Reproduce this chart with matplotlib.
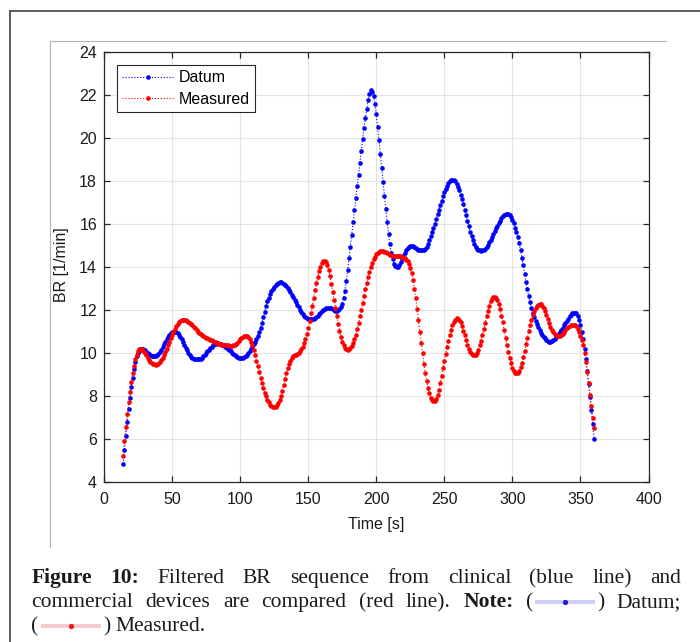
import numpy as np
import matplotlib
matplotlib.use('Agg')
import matplotlib.pyplot as plt
from matplotlib.lines import Line2D

# ---------------- data ----------------
time_s = np.arange(14, 361)  # sample times [s], 1 s apart

datum = [
    4.85, 5.5, 6.15, 6.8, 7.4, 7.9, 8.4, 8.85, 9.25, 9.6,
    9.85, 10.0, 10.1, 10.17, 10.2, 10.18, 10.12, 10.05, 10.0, 9.95,
    9.9, 9.87, 9.85, 9.85, 9.86, 9.9, 9.97, 10.05, 10.15, 10.27,
    10.4, 10.52, 10.64, 10.75, 10.85, 10.92, 10.97, 11.0, 11.0, 10.98,
    10.93, 10.85, 10.75, 10.63, 10.5, 10.37, 10.24, 10.12, 10.01, 9.91,
    9.83, 9.77, 9.73, 9.71, 9.7, 9.7, 9.71, 9.74, 9.79, 9.85,
    9.92, 10.0, 10.08, 10.16, 10.24, 10.3, 10.36, 10.4, 10.43, 10.45,
    10.45, 10.44, 10.42, 10.39, 10.35, 10.3, 10.25, 10.19, 10.13, 10.07,
    10.01, 9.95, 9.9, 9.85, 9.81, 9.78, 9.76, 9.76, 9.77, 9.8,
    9.85, 9.92, 10.0, 10.08, 10.17, 10.28, 10.4, 10.52, 10.64, 10.78,
    10.97, 11.18, 11.4, 11.67, 11.92, 12.18, 12.4, 12.58, 12.74, 12.87,
    12.98, 13.08, 13.16, 13.22, 13.26, 13.28, 13.28, 13.26, 13.22, 13.17,
    13.1, 13.02, 12.93, 12.83, 12.72, 12.6, 12.48, 12.36, 12.24, 12.12,
    12.01, 11.91, 11.82, 11.74, 11.68, 11.63, 11.6, 11.58, 11.57, 11.57,
    11.58, 11.61, 11.66, 11.72, 11.8, 11.87, 11.94, 12.0, 12.04, 12.07,
    12.09, 12.1, 12.1, 12.08, 12.03, 11.98, 11.95, 11.96, 12.0, 12.05,
    12.15, 12.3, 12.55, 12.9, 13.35, 13.85, 14.4, 14.95, 15.5, 16.07,
    16.64, 17.2, 17.75, 18.3, 18.85, 19.4, 19.95, 20.45, 20.92, 21.35,
    21.75, 22.05, 22.22, 22.15, 21.95, 21.6, 21.1, 20.5, 19.9, 19.25,
    18.6, 17.95, 17.3, 16.7, 16.1, 15.55, 15.05, 14.65, 14.35, 14.15,
    14.03, 14.0, 14.02, 14.1, 14.22, 14.37, 14.52, 14.65, 14.77, 14.87,
    14.94, 14.98, 14.99, 14.98, 14.95, 14.9, 14.85, 14.81, 14.79, 14.78,
    14.78, 14.8, 14.86, 14.95, 15.08, 15.24, 15.42, 15.61, 15.81, 16.02,
    16.23, 16.45, 16.67, 16.88, 17.09, 17.29, 17.47, 17.63, 17.78, 17.9,
    17.99, 18.04, 18.06, 18.04, 17.98, 17.88, 17.74, 17.57, 17.37, 17.15,
    16.91, 16.66, 16.4, 16.14, 15.89, 15.65, 15.43, 15.24, 15.08, 14.95,
    14.86, 14.8, 14.77, 14.76, 14.77, 14.8, 14.86, 14.94, 15.04, 15.15,
    15.27, 15.4, 15.53, 15.67, 15.8, 15.93, 16.05, 16.16, 16.26, 16.35,
    16.42, 16.46, 16.48, 16.47, 16.42, 16.33, 16.2, 16.03, 15.83, 15.61,
    15.4, 15.1, 14.78, 14.43, 14.07, 13.69, 13.32, 12.96, 12.64, 12.35,
    12.1, 11.88, 11.68, 11.5, 11.34, 11.2, 11.07, 10.95, 10.85, 10.76,
    10.68, 10.61, 10.56, 10.53, 10.53, 10.55, 10.6, 10.67, 10.74, 10.82,
    10.9, 10.98, 11.07, 11.17, 11.28, 11.39, 11.5, 11.6, 11.7, 11.78,
    11.84, 11.87, 11.88, 11.84, 11.72, 11.53, 11.3, 11.0, 10.63, 10.2,
    9.7, 9.15, 8.57, 7.97, 7.35, 6.68, 6.0,
]

measured = [
    5.23, 5.9, 6.55, 7.15, 7.7, 8.2, 8.65, 9.05, 9.4, 9.7,
    9.93, 10.08, 10.17, 10.2, 10.17, 10.1, 10.0, 9.89, 9.78, 9.68,
    9.6, 9.53, 9.49, 9.47, 9.46, 9.47, 9.51, 9.58, 9.67, 9.78,
    9.91, 10.05, 10.2, 10.36, 10.52, 10.68, 10.84, 10.99, 11.13, 11.25,
    11.35, 11.43, 11.49, 11.53, 11.54, 11.54, 11.52, 11.49, 11.45, 11.4,
    11.34, 11.28, 11.21, 11.14, 11.07, 11.0, 10.94, 10.88, 10.83, 10.78,
    10.74, 10.71, 10.68, 10.65, 10.62, 10.59, 10.56, 10.52, 10.49, 10.46,
    10.44, 10.42, 10.4, 10.38, 10.37, 10.36, 10.35, 10.35, 10.34, 10.34,
    10.34, 10.35, 10.38, 10.42, 10.48, 10.55, 10.63, 10.7, 10.76, 10.79,
    10.8, 10.79, 10.74, 10.65, 10.52, 10.35, 10.14, 9.91, 9.65, 9.38,
    9.11, 8.85, 8.6, 8.37, 8.16, 7.98, 7.83, 7.7, 7.6, 7.53,
    7.49, 7.48, 7.5, 7.57, 7.68, 7.83, 8.02, 8.24, 8.5, 8.78,
    9.06, 9.3, 9.5, 9.65, 9.76, 9.84, 9.89, 9.93, 9.97, 10.02,
    10.09, 10.18, 10.3, 10.46, 10.66, 10.9, 11.18, 11.5, 11.84, 12.2,
    12.56, 12.91, 13.24, 13.54, 13.8, 14.01, 14.17, 14.26, 14.28, 14.22,
    14.08, 13.86, 13.57, 13.23, 12.86, 12.47, 12.08, 11.7, 11.34, 11.02,
    10.75, 10.53, 10.36, 10.24, 10.17, 10.15, 10.17, 10.22, 10.32, 10.46,
    10.64, 10.86, 11.12, 11.4, 11.7, 12.02, 12.34, 12.66, 12.97, 13.26,
    13.53, 13.78, 14.0, 14.19, 14.35, 14.48, 14.59, 14.67, 14.72, 14.75,
    14.76, 14.75, 14.72, 14.68, 14.63, 14.59, 14.56, 14.54, 14.53, 14.53,
    14.53, 14.53, 14.53, 14.52, 14.5, 14.47, 14.44, 14.4, 14.34, 14.27,
    14.15, 13.97, 13.72, 13.4, 13.0, 12.55, 12.05, 11.52, 11.0, 10.48,
    9.98, 9.5, 9.08, 8.7, 8.38, 8.12, 7.93, 7.8, 7.75, 7.77,
    7.87, 8.05, 8.3, 8.6, 8.93, 9.28, 9.63, 9.97, 10.29, 10.58,
    10.85, 11.08, 11.28, 11.44, 11.55, 11.61, 11.6, 11.54, 11.42, 11.25,
    11.04, 10.82, 10.6, 10.39, 10.2, 10.05, 9.95, 9.9, 9.89, 9.93,
    10.02, 10.16, 10.35, 10.58, 10.84, 11.12, 11.41, 11.7, 11.97, 12.2,
    12.4, 12.53, 12.6, 12.62, 12.57, 12.45, 12.27, 12.03, 11.74, 11.42,
    11.07, 10.72, 10.38, 10.06, 9.77, 9.52, 9.32, 9.17, 9.08, 9.05,
    9.08, 9.18, 9.34, 9.55, 9.81, 10.1, 10.41, 10.72, 11.02, 11.3,
    11.55, 11.77, 11.95, 12.09, 12.19, 12.25, 12.27, 12.26, 12.2, 12.1,
    11.95, 11.77, 11.58, 11.39, 11.22, 11.08, 10.97, 10.89, 10.84, 10.81,
    10.8, 10.81, 10.84, 10.9, 10.98, 11.06, 11.14, 11.21, 11.26, 11.29,
    11.31, 11.31, 11.29, 11.24, 11.13, 10.98, 10.8, 10.6, 10.35, 10.02,
    9.6, 9.12, 8.6, 8.06, 7.52, 7.0, 6.5,
]

series_labels = ['Datum', 'Measured']
x_ticks = [0, 50, 100, 150, 200, 250, 300, 350, 400]
y_ticks = [4, 6, 8, 10, 12, 14, 16, 18, 20, 22, 24]
x_label = 'Time [s]'
y_label = 'BR [1/min]'

caption_lines = [
    [[('Figure', 'bold')], [('10:', 'bold')], [('Filtered', 'normal')], [('BR', 'normal')],
     [('sequence', 'normal')], [('from', 'normal')], [('clinical', 'normal')],
     [('(blue', 'normal')], [('line)', 'normal')], [('and', 'normal')]],
    [[('commercial', 'normal')], [('devices', 'normal')], [('are', 'normal')],
     [('compared', 'normal')], [('(red', 'normal')], [('line).', 'normal')],
     [('Note:', 'bold')], [('(', 'normal'), ('#SAMPLE', 'blue'), (')', 'normal')],
     [('Datum;', 'normal')]],
    [[('(', 'normal'), ('#SAMPLE', 'red'), (')', 'normal')], [('Measured.', 'normal')]],
]

# ---------------- figure ----------------
W, H = 700, 642
plt.rcParams['font.family'] = ['Liberation Sans', 'DejaVu Sans']
fig = plt.figure(figsize=(W / 100, H / 100), dpi=100)
fig.patch.set_facecolor('white')

def fx(px):
    return px / W

def fy(py):
    return 1 - py / H

# outer frame (left + top)
fig.add_artist(Line2D([fx(9.5), fx(9.5)], [0, fy(10.5)], transform=fig.transFigure,
                      color='#505050', lw=1.3))
fig.add_artist(Line2D([fx(9.5), 1.0], [fy(10.5), fy(10.5)], transform=fig.transFigure,
                      color='#505050', lw=1.3))
# inner image frame
fig.add_artist(Line2D([fx(49.5), fx(666)], [fy(40.5), fy(40.5)], transform=fig.transFigure,
                      color='#b4b4b4', lw=0.8))
fig.add_artist(Line2D([fx(49.5), fx(49.5)], [fy(40.5), fy(547)], transform=fig.transFigure,
                      color='#b4b4b4', lw=0.8))

ax_l, ax_r, ax_t, ax_b = 104, 648.5, 52, 482
ax = fig.add_axes([fx(ax_l), fy(ax_b), (ax_r - ax_l) / W, (ax_b - ax_t) / H])

ax.plot(time_s, datum, ':', color='#0000ff', marker='o', ms=3.3, mew=0, lw=0.8,
        label=series_labels[0])
ax.plot(time_s, measured, ':', color='#ff0000', marker='o', ms=3.3, mew=0, lw=0.8,
        label=series_labels[1])

ax.set_xlim(0, 400)
ax.set_ylim(4, 24)
ax.set_xticks(x_ticks)
ax.set_yticks(y_ticks)
ax.grid(True, color='#e3e3e3', lw=0.8)
ax.set_axisbelow(True)
for s in ax.spines.values():
    s.set_color('#262626')
    s.set_linewidth(0.9)
ax.tick_params(direction='in', top=True, right=True, length=4.5, width=0.9,
               color='#262626', labelsize=11.5, labelcolor='#1a1a1a')
ax.tick_params(axis='x', pad=7.5)
ax.tick_params(axis='y', pad=5)

fig.text(fx(376), fy(524), x_label, ha='center', va='center', fontsize=11.5, color='#1a1a1a')
fig.text(fx(62), fy(265), y_label, ha='center', va='center', rotation=90, fontsize=11.5,
         color='#1a1a1a')

leg = ax.legend(loc='upper left', bbox_to_anchor=((116.7 - ax_l) / (ax_r - ax_l),
                                                  (ax_b - 65) / (ax_b - ax_t)),
                borderaxespad=0, numpoints=1, fontsize=11.5, fancybox=False,
                framealpha=1, edgecolor='#262626', handlelength=3.2,
                handletextpad=0.35, borderpad=0.33, labelspacing=0.4)
leg.get_frame().set_linewidth(0.8)

# ---------------- caption (justified) ----------------
CAP_FS = 15.5
CAP_FAMILY = ['Liberation Serif', 'DejaVu Serif']
SAMPLE_W = 64
renderer = fig.canvas.get_renderer()

def twidth(s, weight):
    t = fig.text(0, 0, s, fontsize=CAP_FS, family=CAP_FAMILY, weight=weight)
    w = t.get_window_extent(renderer).width
    t.remove()
    return w

def piece_w(p):
    if p[0] == '#SAMPLE':
        return SAMPLE_W
    return twidth(p[0], p[1])

def draw_sample(x0, yb, which):
    light = '#d0d0f6' if which == 'blue' else '#f6caca'
    dot = '#1f1fd6' if which == 'blue' else '#e21c1c'
    yy = fy(yb - 4.8)
    fig.add_artist(Line2D([fx(x0 + 2), fx(x0 + SAMPLE_W - 2)], [yy, yy],
                          transform=fig.transFigure, color=light, lw=2.9,
                          solid_capstyle='butt'))
    fig.add_artist(Line2D([fx(x0 + SAMPLE_W / 2)], [yy], transform=fig.transFigure,
                          marker='o', ms=3.8, mew=0, color=dot, lw=0))

space_w = twidth('a b', 'normal') - twidth('ab', 'normal')
x_left, x_right = 31.5, 681
baselines = [583, 607, 631]
for i, words in enumerate(caption_lines):
    widths = [sum(piece_w(p) for p in w) for w in words]
    justify = i < len(caption_lines) - 1
    if justify and len(words) > 1:
        gap = (x_right - x_left - sum(widths)) / (len(words) - 1)
    else:
        gap = space_w
    x = x_left
    yb = baselines[i]
    for w, wd in zip(words, widths):
        xx = x
        for p in w:
            if p[0] == '#SAMPLE':
                draw_sample(xx, yb, p[1])
                xx += SAMPLE_W
            else:
                fig.text(fx(xx), fy(yb), p[0], fontsize=CAP_FS, family=CAP_FAMILY,
                         weight=p[1], ha='left', va='baseline', color='#1a1a1a')
                xx += twidth(p[0], p[1])
        x += wd + gap

fig.savefig('out.png', dpi=100)
